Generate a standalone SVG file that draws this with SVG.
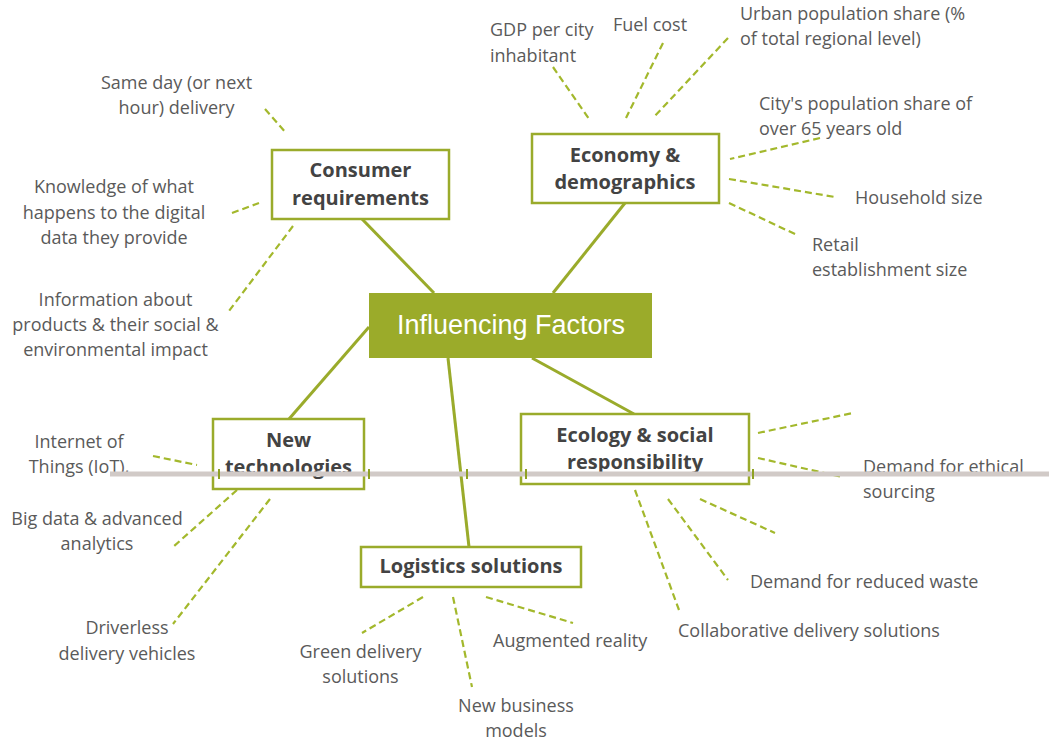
<svg xmlns="http://www.w3.org/2000/svg" width="1049" height="742" viewBox="0 0 1049 742">
<style>
.bg{fill:#ffffff}
.box{fill:#ffffff;stroke:#9aab2b;stroke-width:2.5}
.core{fill:#9bab2a}
.title{font-family:"Open Sans","Liberation Sans",sans-serif;font-weight:bold;font-size:20px;fill:#434343;text-anchor:middle}
.core-t{font-family:"Liberation Sans",Arial,sans-serif;font-size:27px;fill:#ffffff;text-anchor:middle}
.lbl{font-family:"Open Sans","Liberation Sans",sans-serif;font-size:18px;fill:#5a5a5a}
.mid{text-anchor:middle}
.solid{stroke:#9aab2b;stroke-width:3;fill:none}
.dash{stroke:#a3b82c;stroke-width:2.2;stroke-dasharray:7 4;fill:none}
.divider{fill:#d1cac7}
.tick{stroke:#8fa224;stroke-width:2}
</style>
<rect class="bg" x="0" y="0" width="1049" height="742"/>

<g id="connectors">
  <line class="solid" x1="434" y1="293" x2="362" y2="219"/>
  <line class="solid" x1="553" y1="293" x2="625" y2="203"/>
  <line class="solid" x1="369" y1="327" x2="289" y2="419"/>
  <line class="solid" x1="448" y1="358" x2="469" y2="547"/>
  <line class="solid" x1="532" y1="358" x2="634" y2="414"/>
  <!-- economy -->
  <line class="dash" x1="553" y1="67" x2="589" y2="119"/>
  <line class="dash" x1="663" y1="43" x2="626" y2="118"/>
  <line class="dash" x1="728" y1="38" x2="653" y2="118"/>
  <line class="dash" x1="820" y1="138" x2="730" y2="159"/>
  <line class="dash" x1="729" y1="179" x2="835" y2="197"/>
  <line class="dash" x1="729" y1="203" x2="797" y2="235"/>
  <!-- consumer -->
  <line class="dash" x1="265" y1="109" x2="286" y2="133"/>
  <line class="dash" x1="232" y1="213" x2="259" y2="203"/>
  <line class="dash" x1="293" y1="226" x2="229" y2="311"/>
  <!-- new technologies -->
  <line class="dash" x1="153" y1="456" x2="197" y2="465"/>
  <line class="dash" x1="237" y1="490" x2="173" y2="547"/>
  <line class="dash" x1="270" y1="499" x2="173" y2="624"/>
  <!-- logistics -->
  <line class="dash" x1="423" y1="597" x2="362" y2="633"/>
  <line class="dash" x1="453" y1="597" x2="472" y2="687"/>
  <line class="dash" x1="486" y1="597" x2="573" y2="623"/>
  <!-- ecology -->
  <line class="dash" x1="758" y1="433" x2="853" y2="413"/>
  <line class="dash" x1="758" y1="458" x2="842" y2="477"/>
  <line class="dash" x1="700" y1="499" x2="775" y2="533"/>
  <line class="dash" x1="668" y1="499" x2="728" y2="580"/>
  <line class="dash" x1="635" y1="490" x2="679" y2="610"/>
</g>

<g id="influencing-factors">
  <rect class="core" x="369" y="293" width="283" height="65"/>
  <text class="core-t" x="511" y="334">Influencing Factors</text>
</g>

<g id="consumer-requirements">
  <rect class="box" x="272" y="150" width="177" height="69"/>
  <text class="title" x="360.5" y="177">Consumer</text>
  <text class="title" x="360.5" y="205">requirements</text>
</g>

<g id="economy-demographics">
  <rect class="box" x="532" y="134" width="187" height="69"/>
  <text class="title" x="625" y="162">Economy &amp;</text>
  <text class="title" x="625" y="189">demographics</text>
</g>

<g id="new-technologies">
  <rect class="box" x="213" y="419" width="151" height="70"/>
  <text class="title" x="288.5" y="447">New</text>
  <text class="title" x="288.5" y="474">technologies</text>
</g>

<g id="ecology-social-responsibility">
  <rect class="box" x="521" y="414" width="228" height="70"/>
  <text class="title" x="635" y="442">Ecology &amp; social</text>
  <text class="title" x="635" y="469">responsibility</text>
</g>

<g id="logistics-solutions">
  <rect class="box" x="361" y="547" width="220" height="40"/>
  <text class="title" x="471" y="573">Logistics solutions</text>
</g>

<g id="labels-economy">
  <text class="lbl" x="490" y="36">GDP per city</text>
  <text class="lbl" x="490" y="62">inhabitant</text>
  <text class="lbl" x="613" y="31">Fuel cost</text>
  <text class="lbl" x="740" y="20">Urban population share (%</text>
  <text class="lbl" x="740" y="45">of total regional level)</text>
  <text class="lbl" x="759" y="110">City's population share of</text>
  <text class="lbl" x="759" y="135">over 65 years old</text>
  <text class="lbl" x="855" y="204">Household size</text>
  <text class="lbl" x="812" y="251">Retail</text>
  <text class="lbl" x="812" y="276">establishment size</text>
</g>

<g id="labels-consumer">
  <text class="lbl mid" x="176.5" y="89">Same day (or next</text>
  <text class="lbl mid" x="176.5" y="114">hour) delivery</text>
  <text class="lbl mid" x="114" y="193">Knowledge of what</text>
  <text class="lbl mid" x="114" y="219">happens to the digital</text>
  <text class="lbl mid" x="114" y="244">data they provide</text>
  <text class="lbl mid" x="115.5" y="306">Information about</text>
  <text class="lbl mid" x="115.5" y="331">products &amp; their social &amp;</text>
  <text class="lbl mid" x="115.5" y="356">environmental impact</text>
</g>

<g id="labels-technologies">
  <text class="lbl mid" x="79" y="448">Internet of</text>
  <text class="lbl mid" x="79" y="473">Things (IoT),</text>
  <text class="lbl mid" x="97" y="525">Big data &amp; advanced</text>
  <text class="lbl mid" x="97" y="550">analytics</text>
  <text class="lbl mid" x="127" y="634">Driverless</text>
  <text class="lbl mid" x="127" y="660">delivery vehicles</text>
</g>

<g id="labels-logistics">
  <text class="lbl mid" x="360.5" y="658">Green delivery</text>
  <text class="lbl mid" x="360.5" y="683">solutions</text>
  <text class="lbl mid" x="516" y="712">New business</text>
  <text class="lbl mid" x="516" y="737">models</text>
  <text class="lbl" x="493" y="647">Augmented reality</text>
</g>

<g id="labels-ecology">
  <text class="lbl" x="863" y="473">Demand for ethical</text>
  <text class="lbl" x="863" y="498">sourcing</text>
  <text class="lbl" x="750" y="588">Demand for reduced waste</text>
  <text class="lbl" x="678" y="637">Collaborative delivery solutions</text>
</g>

<g id="divider">
  <rect class="divider" x="110" y="471.5" width="939" height="5"/>
  <line class="tick" x1="219" y1="469" x2="219" y2="479"/>
  <line class="tick" x1="369" y1="469" x2="369" y2="479"/>
  <line class="tick" x1="467" y1="469" x2="467" y2="479"/>
  <line class="tick" x1="526" y1="469" x2="526" y2="479"/>
  <line class="tick" x1="753" y1="469" x2="753" y2="479"/>
</g>
</svg>
